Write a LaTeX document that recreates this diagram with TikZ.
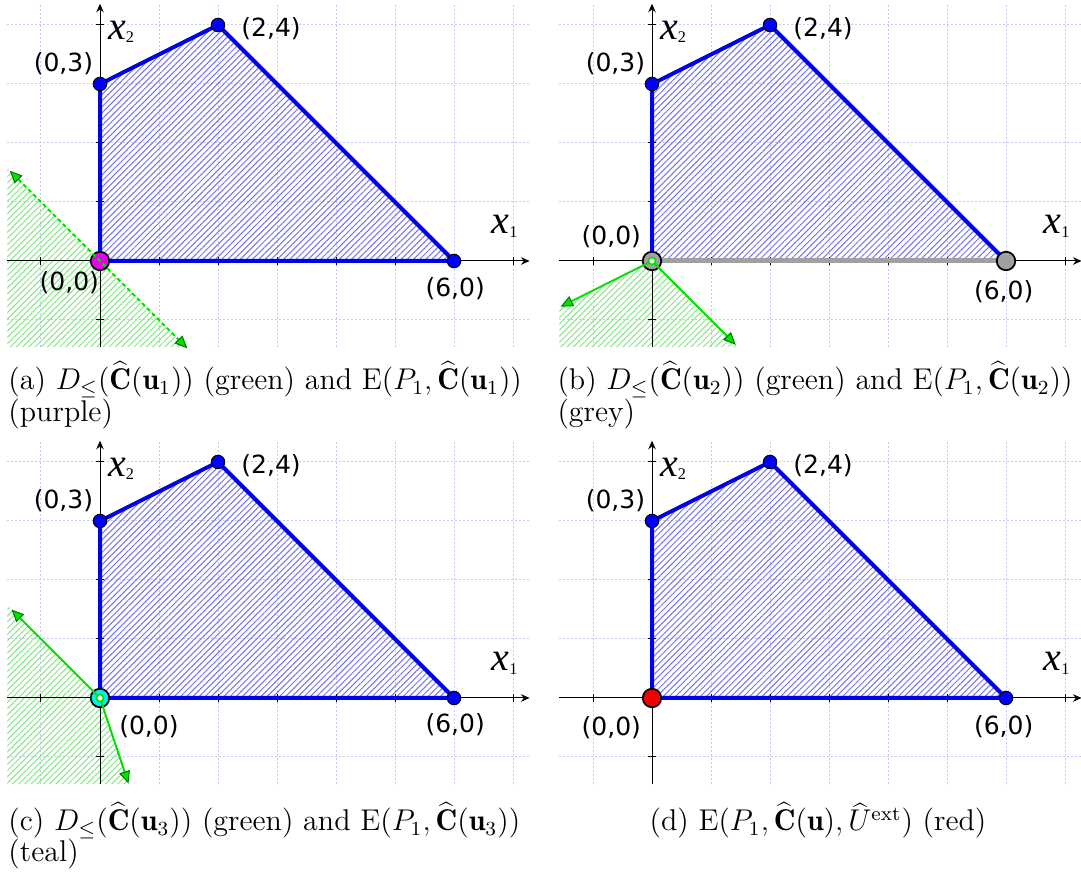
\documentclass[tikz,border=0pt]{standalone}
\usepackage{fontspec}
\usetikzlibrary{arrows.meta,patterns.meta}
\newfontfamily\numfont{DejaVu Sans}
\newfontfamily\xfont{Liberation Serif}
\definecolor{gridc}{RGB}{195,200,245}
\definecolor{hatchblue}{RGB}{115,115,240}
\definecolor{borderblue}{RGB}{0,0,235}
\definecolor{dotblue}{RGB}{0,0,255}
\definecolor{hatchgreen}{RGB}{135,230,135}
\definecolor{greenline}{RGB}{0,225,0}
\definecolor{arrowgreen}{RGB}{0,120,0}
\definecolor{segray}{RGB}{160,160,160}
\definecolor{dotmag}{RGB}{235,0,235}
\definecolor{dotcyan}{RGB}{0,240,240}
\definecolor{dotred}{RGB}{240,0,0}
\tikzset{
 gridline/.style={gridc, line width=0.4pt, dash pattern=on 0.8pt off 0.8pt},
 bluehatch/.style={pattern={Lines[angle=45,distance=1.75pt,line width=0.4pt]}, pattern color=hatchblue},
 greenhatch/.style={pattern={Lines[angle=45,distance=1.75pt,line width=0.4pt]}, pattern color=hatchgreen},
 axisline/.style={black, line width=0.4pt, -{Stealth[length=3.4pt,width=3pt]}},
 tickline/.style={black, line width=0.4pt},
 border/.style={borderblue, line width=1.6pt, line join=round},
 grayseg/.style={segray, line width=2pt},
 vdot/.style={circle, inner sep=0pt, minimum size=5.4pt, fill=dotblue, draw=black, line width=0.4pt},
 bigdot/.style={circle, inner sep=0pt, minimum size=7.4pt, draw=black, line width=0.7pt},
 innerdot/.style={circle, inner sep=0pt, minimum size=2.8pt, fill=white, draw=greenline, line width=0.6pt},
 ray/.style={greenline, line width=0.8pt, -{Triangle[length=5pt,width=4.4pt,color=arrowgreen,fill=greenline,line width=0.4pt]}},
 dline/.style={greenline, line width=0.8pt, dash pattern=on 1.6pt off 1.2pt, {Triangle[length=5pt,width=4.4pt,color=arrowgreen,fill=greenline,line width=0.4pt]}-{Triangle[length=5pt,width=4.4pt,color=arrowgreen,fill=greenline,line width=0.4pt]}},
 numlabel/.style={font=\numfont\fontsize{10}{12}\selectfont, inner sep=0pt},
 axlabel/.style={anchor=base west, inner sep=0pt},
 captext/.style={anchor=base west, inner sep=0pt, font=\fontsize{12}{13}\selectfont},
}
\newcommand\xlab[1]{{\xfont\itshape\fontsize{16}{16}\selectfont x}\raisebox{-1.5pt}{\xfont\fontsize{6.5}{6.5}\selectfont #1}}
\newcommand\gridpart[1]{%
 \foreach \i in {-1,...,7} \draw[gridline] (\i,-1.46) -- (\i,4.35);
 \foreach \j in {-1,...,4} \draw[gridline] (-1.57,\j) -- (7.28,\j);
 \coordinate (#1o) at (0,0);
 \coordinate (#1a) at (6,0);
 \coordinate (#1b) at (2,4);
 \coordinate (#1c) at (0,3);
 \coordinate (#1xl) at (-1.57,0);
 \coordinate (#1xr) at (7.28,0);
 \coordinate (#1yb) at (0,-1.46);
 \coordinate (#1yt) at (0,4.36);
 \fill[bluehatch] (#1o) -- (#1a) -- (#1b) -- (#1c) -- cycle;
}
\newcommand\axespart[1]{%
 \draw[axisline] (#1xl) -- (#1xr);
 \draw[axisline] (#1yb) -- (#1yt);
 \foreach \i in {-1,1,2,...,7} \draw[tickline] (\i,-0.068) -- (\i,0.068);
 \foreach \j in {-1,1,2,3,4} \draw[tickline] (-0.068,\j) -- (0.068,\j);
 \draw[border] (#1o) -- (#1a) -- (#1b) -- (#1c) -- cycle;
}
\newcommand\labelpart[1]{%
 \node[vdot] (#1d03) at (#1c) {};
 \node[vdot] (#1d24) at (#1b) {};
 \node[numlabel] (#1l03) at (-0.62,3.34) {(0,3)};
 \node[numlabel] (#1l24) at (2.9,3.94) {(2,4)};
 \node[axlabel] (#1x2) at (0.13,3.76) {\xlab{2}};
 \node[axlabel] (#1x1) at (6.63,0.47) {\xlab{1}};
}
\begin{document}
\begin{tikzpicture}[x=0.4pt,y=-0.4pt]
\useasboundingbox (0,0) rectangle (1081,877);
% ---------- (a)
\begin{scope}[shift={(100,261)},x=23.6pt,y=23.6pt]
 \gridpart{a}
 \fill[greenhatch] (-1.57,1.57) -- (ao) -- (1.46,-1.46) -- (-1.57,-1.46) -- cycle;
 \axespart{a}
 \node[bigdot, fill=dotmag] (ad00) at (ao) {};
 \coordinate (aup) at (-1.53,1.53);
 \coordinate (adn) at (1.48,-1.48);
 \draw[dline] (aup) -- (adn);
 \node[vdot] (ad60) at (aa) {};
 \labelpart{a}
 \node[numlabel] (al00) at (-0.52,-0.37) {(0,0)};
 \node[numlabel] (al60) at (6.02,-0.47) {(6,0)};
\end{scope}
% ---------- (b)
\begin{scope}[shift={(652,261)},x=23.6pt,y=23.6pt]
 \gridpart{b}
 \fill[greenhatch] (bo) -- (-1.57,-0.785) -- (-1.57,-1.46) -- (1.46,-1.46) -- cycle;
 \axespart{b}
 \draw[grayseg] (bo) -- (ba);
 \node[bigdot, fill=segray] (bd00) at (bo) {};
 \node[bigdot, fill=segray] (bd60) at (ba) {};
 \coordinate (bl) at (-1.55,-0.775);
 \coordinate (br) at (1.42,-1.42);
 \draw[ray] (bo) -- (bl);
 \draw[ray] (bo) -- (br);
 \node[innerdot] (bi00) at (bo) {};
 \labelpart{b}
 \node[numlabel] (bl00) at (-0.69,0.41) {(0,0)};
 \node[numlabel] (bl60) at (5.96,-0.52) {(6,0)};
\end{scope}
% ---------- (c)
\begin{scope}[shift={(100,698)},x=23.6pt,y=23.6pt]
 \gridpart{c}
 \fill[greenhatch] (co) -- (-1.57,1.57) -- (-1.57,-1.46) -- (0.487,-1.46) -- cycle;
 \axespart{c}
 \node[bigdot, fill=dotcyan] (cd00) at (co) {};
 \coordinate (cu) at (-1.5,1.5);
 \coordinate (cdn) at (0.483,-1.45);
 \draw[ray] (co) -- (cu);
 \draw[ray] (co) -- (cdn);
 \node[innerdot] (ci00) at (co) {};
 \node[vdot] (cd60) at (ca) {};
 \labelpart{c}
 \node[numlabel] (cl00) at (0.83,-0.49) {(0,0)};
 \node[numlabel] (cl60) at (6.02,-0.46) {(6,0)};
\end{scope}
% ---------- (d)
\begin{scope}[shift={(652,698)},x=23.6pt,y=23.6pt]
 \gridpart{d}
 \axespart{d}
 \node[bigdot, fill=dotred] (dd00) at (do) {};
 \node[vdot] (dd60) at (da) {};
 \labelpart{d}
 \node[numlabel] (dl00) at (-0.69,-0.51) {(0,0)};
 \node[numlabel] (dl60) at (5.96,-0.49) {(6,0)};
\end{scope}
% ---------- captions
\node[captext] (capa1) at (8,390) {(a) $D_{\leq}(\widehat{\mathbf{C}}(\mathbf{u}_1))$ (green) and $\mathrm{E}(P_1,\widehat{\mathbf{C}}(\mathbf{u}_1))$};
\node[captext] (capa2) at (8,422) {(purple)};
\node[captext] (capb1) at (557,390) {(b) $D_{\leq}(\widehat{\mathbf{C}}(\mathbf{u}_2))$ (green) and $\mathrm{E}(P_1,\widehat{\mathbf{C}}(\mathbf{u}_2))$};
\node[captext] (capb2) at (557,422) {(grey)};
\node[captext] (capc1) at (8,831) {(c) $D_{\leq}(\widehat{\mathbf{C}}(\mathbf{u}_3))$ (green) and $\mathrm{E}(P_1,\widehat{\mathbf{C}}(\mathbf{u}_3))$};
\node[captext] (capc2) at (8,862) {(teal)};
\node[captext, anchor=base] (capd1) at (818,831) {(d) $\mathrm{E}(P_1,\widehat{\mathbf{C}}(\mathbf{u}),\widehat{U}^{\mathrm{ext}})$ (red)};
\end{tikzpicture}
\end{document}
